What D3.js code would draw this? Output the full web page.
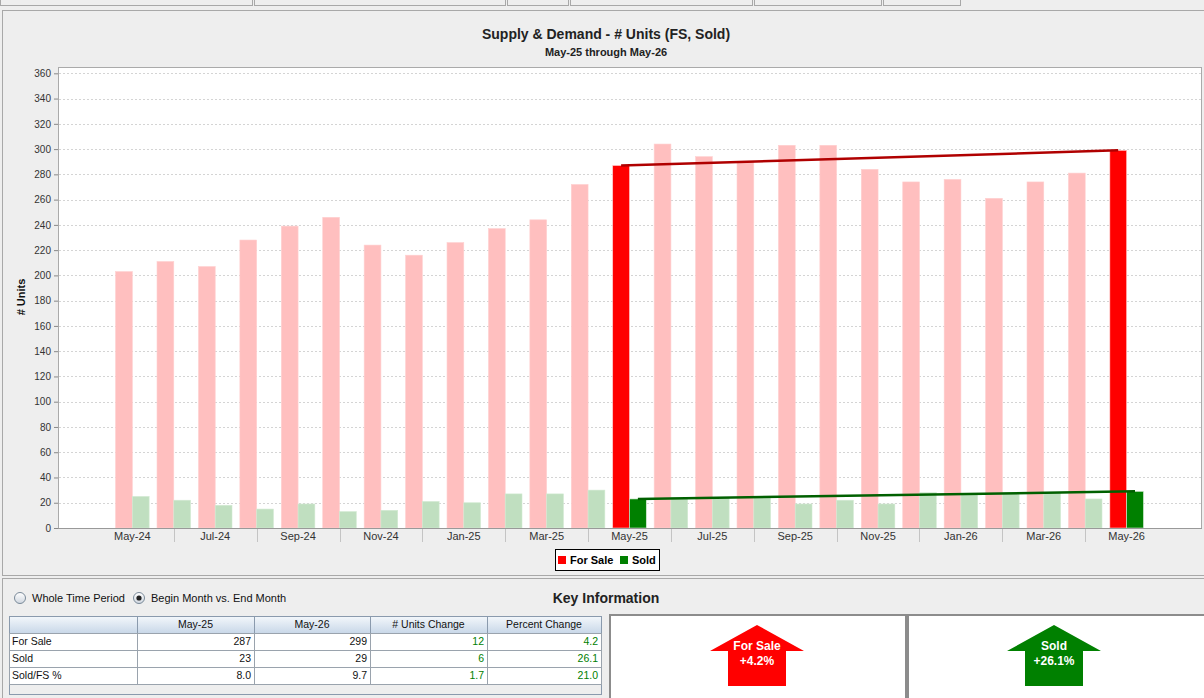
<!DOCTYPE html>
<meta charset="utf-8">
<style>

body {
  margin: 0;
  background: #eeeeee;
}

svg {
  display: block;
  font-family: "Liberation Sans", Arial, sans-serif;
}

.grid line {
  stroke: #d4d4d4;
  stroke-dasharray: 2,2;
}

.y-axis text, .x-label {
  font-size: 10px;
  fill: #333;
}

.x-label {
  font-size: 11px;
}

.cell {
  font-size: 10.5px;
  fill: #111;
}

</style>
<svg width="1204" height="698"></svg>
<script src="https://d3js.org/d3.v7.min.js"></script>
<script>

var months = ["May-24", "Jun-24", "Jul-24", "Aug-24", "Sep-24", "Oct-24", "Nov-24", "Dec-24",
              "Jan-25", "Feb-25", "Mar-25", "Apr-25", "May-25", "Jun-25", "Jul-25", "Aug-25",
              "Sep-25", "Oct-25", "Nov-25", "Dec-25", "Jan-26", "Feb-26", "Mar-26", "Apr-26", "May-26"];
var forSale = [203, 211, 207, 228, 239, 246, 224, 216, 226, 237, 244, 272, 287,
               304, 294, 290, 303, 303, 284, 274, 276, 261, 274, 281, 299];
var sold = [25, 22, 18, 15, 19, 13, 14, 21, 20, 27, 27, 30, 23,
            24, 24, 25, 19, 22, 19, 28, 27, 28, 28, 23, 29];
var yTicks = d3.range(0, 361, 20);
var beginMonth = "May-25",
    endMonth = "May-26";

var tableHeader = ["", "May-25", "May-26", "# Units Change", "Percent Change"];
var tableRows = [
  ["For Sale", "287", "299", "12", "4.2"],
  ["Sold", "23", "29", "6", "26.1"],
  ["Sold/FS %", "8.0", "9.7", "1.7", "21.0"]
];
var arrowLabels = [["For Sale", "+4.2%"], ["Sold", "+26.1%"]];

var svg = d3.select("svg");

var margin = {left: 58, right: 1201, top: 67, bottom: 528};

// tabs cut off at the top
var tabs = [[0, 252], [254, 505], [507, 568], [570, 752], [754, 881], [883, 960]];
svg.selectAll(".tab")
    .data(tabs)
  .enter().append("rect")
    .attr("x", function(d) { return d[0] + 0.5; })
    .attr("y", -10)
    .attr("width", function(d) { return d[1] - d[0]; })
    .attr("height", 15.5)
    .attr("fill", "#eee")
    .attr("stroke", "#a8a8a8");

// chart panel
svg.append("rect")
    .attr("x", 2.5).attr("y", 10.5)
    .attr("width", 1210).attr("height", 565)
    .attr("fill", "#eee")
    .attr("stroke", "#a8a8a8");

svg.append("text")
    .attr("x", 606).attr("y", 39)
    .attr("text-anchor", "middle")
    .attr("font-size", 14).attr("font-weight", "bold")
    .attr("fill", "#222")
    .text("Supply & Demand - # Units (FS, Sold)");

svg.append("text")
    .attr("x", 606).attr("y", 56)
    .attr("text-anchor", "middle")
    .attr("font-size", 11).attr("font-weight", "bold")
    .attr("fill", "#222")
    .text(beginMonth + " through " + endMonth);

var x = d3.scaleBand()
    .domain(months)
    .range([margin.left, margin.right])
    .paddingInner(0.19)
    .paddingOuter(1.39);

var xSub = d3.scaleBand()
    .domain(["fs", "sold"])
    .range([0, x.bandwidth()]);

var y = d3.scaleLinear()
    .domain([0, 365])
    .range([margin.bottom, margin.top]);

svg.append("rect")
    .attr("x", margin.left + 0.5).attr("y", margin.top + 0.5)
    .attr("width", margin.right - margin.left).attr("height", margin.bottom - margin.top)
    .attr("fill", "#fff")
    .attr("stroke", "#aaa");

svg.append("g")
    .attr("class", "grid")
  .selectAll("line")
    .data(yTicks.filter(function(d) { return d > 0; }))
  .enter().append("line")
    .attr("x1", margin.left + 1).attr("x2", margin.right)
    .attr("y1", function(d) { return Math.round(y(d)) + 0.5; })
    .attr("y2", function(d) { return Math.round(y(d)) + 0.5; });

var data = months.map(function(m, i) { return {month: m, fs: forSale[i], sold: sold[i]}; });

function isKey(m) { return m === beginMonth || m === endMonth; }

var group = svg.selectAll(".month")
    .data(data)
  .enter().append("g")
    .attr("class", "month")
    .attr("transform", function(d) { return "translate(" + x(d.month) + ",0)"; });

group.append("rect")
    .attr("x", xSub("fs"))
    .attr("y", function(d) { return y(d.fs); })
    .attr("width", xSub.bandwidth())
    .attr("height", function(d) { return y(0) - y(d.fs); })
    .attr("fill", function(d) { return isKey(d.month) ? "#ff0000" : "#ffbfbf"; })
    .attr("stroke", "#ffd0d0").attr("stroke-width", 0.6);

group.append("rect")
    .attr("x", xSub("sold"))
    .attr("y", function(d) { return y(d.sold); })
    .attr("width", xSub.bandwidth())
    .attr("height", function(d) { return y(0) - y(d.sold); })
    .attr("fill", function(d) { return isKey(d.month) ? "#008000" : "#c0dfc0"; })
    .attr("stroke", "#d2ead2").attr("stroke-width", 0.6);

// trend lines between begin and end month
var b = months.indexOf(beginMonth),
    e = months.indexOf(endMonth);

svg.append("line")
    .attr("x1", x(beginMonth) + xSub("fs") + xSub.bandwidth() / 2)
    .attr("x2", x(endMonth) + xSub("fs") + xSub.bandwidth() / 2)
    .attr("y1", y(forSale[b]))
    .attr("y2", y(forSale[e]))
    .attr("stroke", "#b00000")
    .attr("stroke-width", 2.5);

svg.append("line")
    .attr("x1", x(beginMonth) + xSub("sold") + xSub.bandwidth() / 2)
    .attr("x2", x(endMonth) + xSub("sold") + xSub.bandwidth() / 2)
    .attr("y1", y(sold[b]))
    .attr("y2", y(sold[e]))
    .attr("stroke", "#006000")
    .attr("stroke-width", 2.5);

// axes
var yAxis = svg.append("g")
    .attr("class", "y-axis")
    .attr("transform", "translate(" + margin.left + ",0)")
    .call(d3.axisLeft(y).tickValues(yTicks).tickSize(4).tickPadding(3));
yAxis.select(".domain").remove();
yAxis.selectAll("line").attr("stroke", "#888");
yAxis.selectAll("text").attr("font-family", "Liberation Sans, Arial, sans-serif").attr("font-size", 10);

svg.append("line")
    .attr("x1", margin.left).attr("x2", margin.right + 1)
    .attr("y1", margin.bottom + 0.5).attr("y2", margin.bottom + 0.5)
    .attr("stroke", "#999");

svg.selectAll(".x-label")
    .data(months.filter(function(d, i) { return i % 2 === 0; }))
  .enter().append("text")
    .attr("class", "x-label")
    .attr("x", function(d) { return x(d) + x.bandwidth() / 2; })
    .attr("y", 540)
    .attr("text-anchor", "middle")
    .text(function(d) { return d; });

svg.selectAll(".x-sep")
    .data(months.filter(function(d, i) { return i % 2 === 1; }))
  .enter().append("line")
    .attr("class", "x-sep")
    .attr("x1", function(d) { return Math.round(x(d) + x.bandwidth() / 2) + 0.5; })
    .attr("x2", function(d) { return Math.round(x(d) + x.bandwidth() / 2) + 0.5; })
    .attr("y1", margin.bottom + 1).attr("y2", 542)
    .attr("stroke", "#c4c4c4");

svg.append("text")
    .attr("transform", "translate(25,297) rotate(-90)")
    .attr("text-anchor", "middle")
    .attr("font-size", 11).attr("font-weight", "bold")
    .attr("fill", "#111")
    .text("# Units");

// legend
var legend = svg.append("g").attr("transform", "translate(555,549)");
legend.append("rect")
    .attr("x", 0.5).attr("y", 0.5)
    .attr("width", 104).attr("height", 21)
    .attr("fill", "#fff").attr("stroke", "#000");
[["For Sale", "#ff0000", 3], ["Sold", "#008000", 65]].forEach(function(d) {
  legend.append("rect")
      .attr("x", d[2]).attr("y", 7)
      .attr("width", 8).attr("height", 8)
      .attr("fill", d[1]);
  legend.append("text")
      .attr("x", d[2] + 12).attr("y", 15)
      .attr("font-size", 11).attr("font-weight", "bold")
      .text(d[0]);
});

// bottom panel
svg.append("rect")
    .attr("x", 2.5).attr("y", 578.5)
    .attr("width", 1210).attr("height", 130)
    .attr("fill", "#eee")
    .attr("stroke", "#a8a8a8");

var radioGrad = svg.append("defs").append("linearGradient")
    .attr("id", "radio").attr("x1", 0).attr("y1", 0).attr("x2", 0).attr("y2", 1);
radioGrad.append("stop").attr("offset", 0).attr("stop-color", "#ffffff");
radioGrad.append("stop").attr("offset", 1).attr("stop-color", "#cfd6df");

var headGrad = svg.select("defs").append("linearGradient")
    .attr("id", "head").attr("x1", 0).attr("y1", 0).attr("x2", 0).attr("y2", 1);
headGrad.append("stop").attr("offset", 0).attr("stop-color", "#f3f7fb");
headGrad.append("stop").attr("offset", 1).attr("stop-color", "#c8d7e8");

[["Whole Time Period", 20, false], ["Begin Month vs. End Month", 139, true]].forEach(function(d) {
  svg.append("circle")
      .attr("cx", d[1]).attr("cy", 598).attr("r", 5.5)
      .attr("fill", "url(#radio)").attr("stroke", "#7a8a99");
  if (d[2]) svg.append("circle")
      .attr("cx", d[1]).attr("cy", 598).attr("r", 2.6)
      .attr("fill", "#222");
  svg.append("text")
      .attr("x", d[1] + 12).attr("y", 602)
      .attr("font-size", 11)
      .attr("fill", "#111")
      .text(d[0]);
});

svg.append("text")
    .attr("x", 606).attr("y", 603)
    .attr("text-anchor", "middle")
    .attr("font-size", 14).attr("font-weight", "bold")
    .attr("fill", "#222")
    .text("Key Information");

// table
var colX = [9, 137, 254, 370, 487, 601],
    rowY = 616, headH = 17, rowH = 17;

svg.append("rect")
    .attr("x", colX[0] + 0.5).attr("y", rowY + 0.5)
    .attr("width", colX[5] - colX[0]).attr("height", 78)
    .attr("fill", "#eee").attr("stroke", "#8a9aad");

tableHeader.forEach(function(h, i) {
  svg.append("rect")
      .attr("x", colX[i] + 0.5).attr("y", rowY + 0.5)
      .attr("width", colX[i + 1] - colX[i]).attr("height", headH)
      .attr("fill", "url(#head)").attr("stroke", "#8a9aad");
  svg.append("text")
      .attr("class", "cell")
      .attr("x", (colX[i] + colX[i + 1]) / 2).attr("y", rowY + 12)
      .attr("text-anchor", "middle")
      .attr("fill", "#222")
      .text(h);
});

tableRows.forEach(function(row, r) {
  var top = rowY + headH + r * rowH;
  row.forEach(function(v, i) {
    svg.append("rect")
        .attr("x", colX[i] + 0.5).attr("y", top + 0.5)
        .attr("width", colX[i + 1] - colX[i]).attr("height", rowH)
        .attr("fill", "#fff").attr("stroke", "#9aa3ad");
    svg.append("text")
        .attr("class", "cell")
        .attr("x", i === 0 ? colX[i] + 3 : colX[i + 1] - 3)
        .attr("y", top + 12)
        .attr("text-anchor", i === 0 ? "start" : "end")
        .style("fill", i >= 3 ? "#008000" : "#111")
        .text(v);
  });
});

// key information arrows
var boxes = [[609, 906, "#ff0000", 757], [907, 1210, "#008000", 1054]];
boxes.forEach(function(d, i) {
  svg.append("rect")
      .attr("x", d[0] + 1).attr("y", 615)
      .attr("width", d[1] - d[0] - 1).attr("height", 90)
      .attr("fill", "#fff").attr("stroke", "#8c8c8c").attr("stroke-width", 2);
  var c = d[3];
  svg.append("path")
      .attr("d", d3.line()([[c, 625], [c + 47, 651], [c + 29, 651], [c + 29, 686],
                            [c - 29, 686], [c - 29, 651], [c - 47, 651]]) + "Z")
      .attr("fill", d[2]);
  arrowLabels[i].forEach(function(t, j) {
    svg.append("text")
        .attr("x", c).attr("y", 650 + j * 15)
        .attr("text-anchor", "middle")
        .attr("font-size", 12).attr("font-weight", "bold")
        .attr("fill", "#fff")
        .text(t);
  });
});

</script>
